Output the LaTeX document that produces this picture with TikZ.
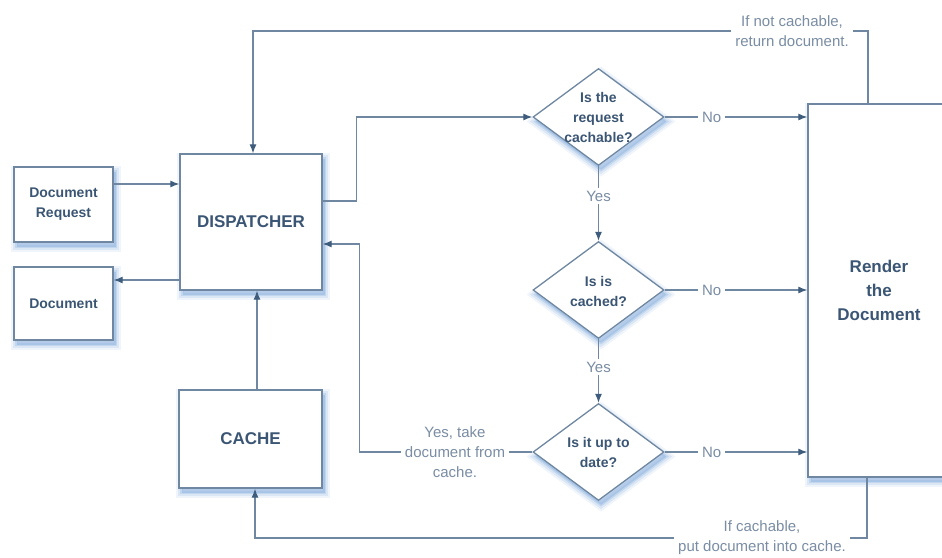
\documentclass[tikz,border=0pt]{standalone}
\usepackage{fontspec}
\setmainfont{Liberation Sans}
\usetikzlibrary{shapes.geometric,arrows.meta}

\definecolor{edge}{HTML}{6F87A0}
\definecolor{ink}{HTML}{3B5674}
\definecolor{soft}{HTML}{7A8DA4}
\definecolor{glow}{HTML}{93B6E0}
\definecolor{tip}{HTML}{3E5C7C}

\newcommand{\boxfont}{\bfseries\fontsize{14}{20}\selectfont}
\newcommand{\bigfont}{\bfseries\fontsize{17}{24}\selectfont}
\newcommand{\notefont}{\fontsize{15}{20}\selectfont}

\tikzset{
  softshadow/.style={
    preaction={draw=glow, fill=glow, line width=11pt, opacity=0.14,
      transform canvas={xshift=2.5pt,yshift=-4.5pt}},
    preaction={draw=glow, fill=glow, line width=7pt, opacity=0.22,
      transform canvas={xshift=2.5pt,yshift=-4.5pt}},
    preaction={draw=glow, fill=glow, line width=3pt, opacity=0.35,
      transform canvas={xshift=2.5pt,yshift=-4.5pt}}},
  block/.style={rectangle, draw=edge, line width=1.3pt, fill=white,
    softshadow, text=ink, font=\boxfont, align=center, inner sep=0pt},
  decision/.style={diamond, draw=edge, line width=1.3pt, fill=white,
    softshadow, inner sep=0pt, minimum width=131pt, minimum height=97pt},
  question/.style={text=ink, font=\boxfont, align=center, inner sep=0pt},
  note/.style={text=soft, font=\notefont, align=center, fill=white,
    inner sep=4pt},
  link/.style={draw=edge, line width=1.2pt},
  arr/.style={link, -{Latex[length=9pt,width=7pt,color=tip]}},
}

\begin{document}
\begin{tikzpicture}[x=1pt,y=-1pt]
\path[use as bounding box] (0,0) rectangle (942,557);

% boxes
\node[block, minimum width=99pt, minimum height=75pt] (req) at (63.5,204.5) {Document\\Request};
\node[block, minimum width=99pt, minimum height=73pt] (doc) at (63.5,303.5) {Document};
\node[block, minimum width=142pt, minimum height=136pt, font=\bigfont] (disp) at (251,222) {DISPATCHER};
\node[block, minimum width=143pt, minimum height=98pt, font=\bigfont] (cache) at (250.5,439) {CACHE};
\node[block, minimum width=142pt, minimum height=373pt, font=\bigfont] (render) at (879,290.5) {Render\\the\\Document};

% decisions
\node[decision] (d1) at (598.5,117) {};
\node[question] (q1) at (d1.center) {Is the\\request\\cachable?};
\node[decision] (d2) at (598.5,290) {};
\node[question] (q2) at ([yshift=-1.5pt]d2.center) {Is is\\cached?};
\node[decision] (d3) at (598.5,452) {};
\node[question] (q3) at (d3.center) {Is it up to\\date?};

% free-standing notes on the loops
\node[note] (ret) at (792,31) {If not cachable,\\return document.};
\node[note] (put) at (762,538) {If cachable,\\put document into cache.};
\node[note] (take) at (455,452) {Yes, take\\document from\\cache.};

% attachment points on the box sides
\coordinate (reqout) at ([yshift=20.5pt]req.east);
\coordinate (docin) at ([yshift=23.5pt]doc.east);
\coordinate (cacheout) at ([xshift=6.5pt]cache.north);
\coordinate (dispout) at ([yshift=21pt]disp.east);
\coordinate (dispin) at ([yshift=-22pt]disp.east);
\coordinate (riser) at ([xshift=34pt]dispout);

% request / response
\draw[arr] (reqout) -- (reqout -| disp.west);
\draw[arr] (disp.west |- docin) -- (docin);
\draw[arr] (cacheout) -- (cacheout |- disp.south);

% dispatcher to first decision
\draw[arr] (dispout) -- (riser) |- (d1.west);

% decision chain
\draw[arr] (d1.south) -- node[note, pos=0.4, inner sep=3pt] (y1) {Yes} (d2.north);
\draw[arr] (d2.south) -- node[note, pos=0.44, inner sep=3pt] (y2) {Yes} (d3.north);
\draw[arr] (d1.east) -- node[note, pos=0.33, inner sep=4pt] (n1) {No} (d1.east -| render.west);
\draw[arr] (d2.east) -- node[note, pos=0.33, inner sep=4pt] (n2) {No} (d2.east -| render.west);
\draw[arr] (d3.east) -- node[note, pos=0.33, inner sep=4pt] (n3) {No} (d3.east -| render.west);

% cached copy back to dispatcher
\draw[link] (d3.west) -- (take.east);
\draw[arr] (take.west) -- ([xshift=3pt]take.west -| riser) |- (dispin);

% render results back to dispatcher and into cache
\draw[link] ([xshift=-11pt]render.north) |- (ret.east);
\draw[arr] (ret.west) -| ([xshift=2pt]disp.north);
\draw[link] ([xshift=-12pt]render.south) |- (put.east);
\draw[arr] (put.west) -| ([xshift=4.5pt]cache.south);
\end{tikzpicture}
\end{document}
